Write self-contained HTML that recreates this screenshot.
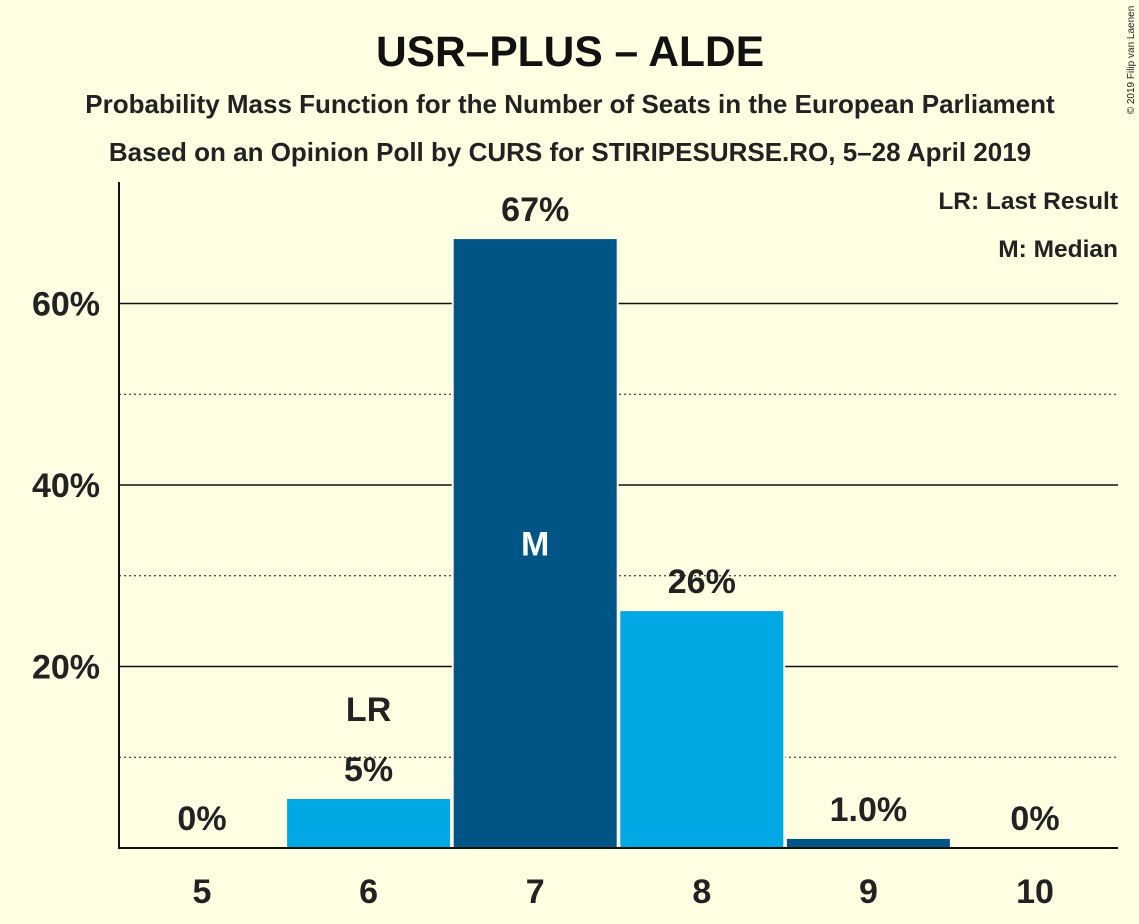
<!DOCTYPE html>
<html><head><meta charset="utf-8"><style>
body{margin:0;background:#FFFEE3;}
svg{display:block;font-family:"Liberation Sans",sans-serif;}
</style></head><body>
<svg id="c" width="1139" height="924" xmlns="http://www.w3.org/2000/svg">
<rect width="1139" height="924" fill="#FFFEE3"/>
<text x="570" y="66" font-size="42.5" font-weight="bold" text-anchor="middle" fill="#111">USR–PLUS – ALDE</text>
<text x="570" y="113" font-size="26" font-weight="bold" text-anchor="middle" fill="#222">Probability Mass Function for the Number of Seats in the European Parliament</text>
<text x="570" y="161" font-size="26" font-weight="bold" text-anchor="middle" fill="#222">Based on an Opinion Poll by CURS for STIRIPESURSE.RO, 5–28 April 2019</text>
<text x="1118" y="209" font-size="24.5" font-weight="bold" text-anchor="end" fill="#222">LR: Last Result</text>
<text x="1118" y="257" font-size="24.5" font-weight="bold" text-anchor="end" fill="#222">M: Median</text>
<text transform="translate(1134,60) rotate(-90)" font-size="10" text-anchor="middle" fill="#222">© 2019 Filip van Laenen</text>
<g id="grid"></g><g id="bars"></g><g id="labels"></g>
<line x1="119" y1="182" x2="119" y2="849" stroke="#111" stroke-width="2"/>
<line x1="118" y1="848" x2="1118" y2="848" stroke="#111" stroke-width="2"/>
</svg>
<script>
const seats=[5,6,7,8,9,10];
const probs=[0,5.4,67.1,26.1,1.0,0];
const valueLabels=["0%","5%","67%","26%","1.0%","0%"];
const barColors=["#00A9E3","#00A9E3","#005587","#00A9E3","#005587","#00A9E3"];
const yTicks=[20,40,60];
const yMinor=[10,30,50];
const lastResult=6, median=7;
const NS="http://www.w3.org/2000/svg";
const y=v=>848-v*9.075;
const x=s=>202+(s-5)*166.6;
const bw=163;
function mk(t,a,p){const e=document.createElementNS(NS,t);for(const k in a)e.setAttribute(k,a[k]);p.appendChild(e);return e;}
const g=document.getElementById('grid'),b=document.getElementById('bars'),l=document.getElementById('labels');
yTicks.forEach(v=>{
 const ln=mk('line',{x1:119,x2:1118,y1:y(v),y2:y(v),stroke:'#111','stroke-width':1.5},g);
 
 
 const t=mk('text',{x:100,y:y(v)+12,'font-size':34,'font-weight':'bold','text-anchor':'end',fill:'#222'},g);
 t.textContent=v+'%';
 
 
});
yMinor.forEach(v=>{
 const ln=mk('line',{x1:119,x2:1118,y1:y(v),y2:y(v),stroke:'#111','stroke-width':1,'stroke-dasharray':'2,3'},g);
 
 
});
seats.forEach((s,i)=>{
 const cx=x(s),p=probs[i];
 if(p>0){
  const r=mk('rect',{x:cx-bw/2-2,y:y(p)-2,width:bw+4,height:848-y(p)+2,fill:'#FFFEE3'},b);
  
  
  const r2=mk('rect',{x:cx-bw/2,y:y(p),width:bw,height:848-y(p),fill:barColors[i]},b);
  
  
 }
 const t=mk('text',{x:cx,y:y(p)-18,'font-size':34,'font-weight':'bold','text-anchor':'middle',fill:'#222'},l);
 t.textContent=valueLabels[i];
 
 
 const xt=mk('text',{x:cx,y:903,'font-size':34,'font-weight':'bold','text-anchor':'middle',fill:'#222'},l);
 xt.textContent=s;
 
 
 if(s===lastResult){
  const lr=mk('text',{x:cx,y:y(p)-78,'font-size':34,'font-weight':'bold','text-anchor':'middle',fill:'#222'},l);
  lr.textContent='LR';
  
  
 }
 if(s===median){
  const m=mk('text',{x:cx,y:y(p/2)+12,'font-size':34,'font-weight':'bold','text-anchor':'middle',fill:'#fff'},l);
  m.textContent='M';
  
  
 }
});
</script>
</body></html>
